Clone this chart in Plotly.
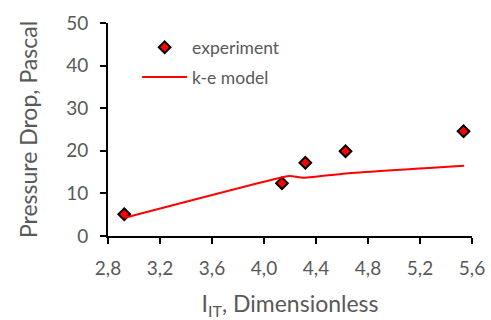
import plotly.graph_objects as go

exp_x = [2.925, 4.138, 4.318, 4.627, 5.535]
exp_y = [5.1, 12.4, 17.2, 19.9, 24.6]

model_x = [2.93, 4.14, 4.2, 4.31, 4.63, 5.54]
model_y = [4.3, 13.8, 14.1, 13.7, 14.7, 16.5]

x_ticks = [2.8, 3.2, 3.6, 4.0, 4.4, 4.8, 5.2, 5.6]
x_tick_text = ["2,8", "3,2", "3,6", "4,0", "4,4", "4,8", "5,2", "5,6"]
y_ticks = [0, 10, 20, 30, 40, 50]

gray = "#595959"
font_family = "Lato, Open Sans, sans-serif"

fig = go.Figure()
fig.add_trace(go.Scatter(
    x=exp_x, y=exp_y, mode="markers", name="experiment", legendgroup="a",
    marker=dict(symbol="diamond", size=9, color="#ff0000",
                line=dict(color="black", width=2)),
))
fig.add_trace(go.Scatter(
    x=model_x, y=model_y, mode="lines", name="k-e model", legendgroup="b",
    line=dict(color="#ff0000", width=2, shape="spline", smoothing=0.6),
))

fig.update_layout(
    width=491, height=320,
    margin=dict(l=108, r=19, t=23, b=84),
    paper_bgcolor="white", plot_bgcolor="white",
    font=dict(family=font_family, color=gray, size=16),
    showlegend=True,
    legend=dict(x=0.08, y=0.97, xanchor="left", yanchor="top",
                bgcolor="rgba(0,0,0,0)", font=dict(size=17.5, color=gray),
                itemwidth=45, traceorder="grouped", tracegroupgap=4),
    xaxis=dict(
        range=[2.8, 5.6], tickvals=x_ticks, ticktext=x_tick_text,
        showgrid=False, zeroline=False, showline=True, linecolor="black",
        linewidth=2, ticks="outside", ticklen=6, tickwidth=2, tickcolor="black",
        tickfont=dict(size=19, color=gray), ticklabelstandoff=8, automargin=False,
        title=dict(text="I<sub>IT</sub>, Dimensionless", font=dict(size=23, color=gray), standoff=23),
    ),
    yaxis=dict(
        range=[0, 50], tickvals=y_ticks,
        showgrid=False, zeroline=False, showline=True, linecolor="black",
        linewidth=2, ticks="outside", ticklen=6, tickwidth=2, tickcolor="black",
        tickfont=dict(size=19, color=gray), ticklabelstandoff=8, automargin=False,
        title=dict(text="Pressure Drop, Pascal", font=dict(size=23, color=gray), standoff=22),
    ),
)

fig.write_html("out.html")
